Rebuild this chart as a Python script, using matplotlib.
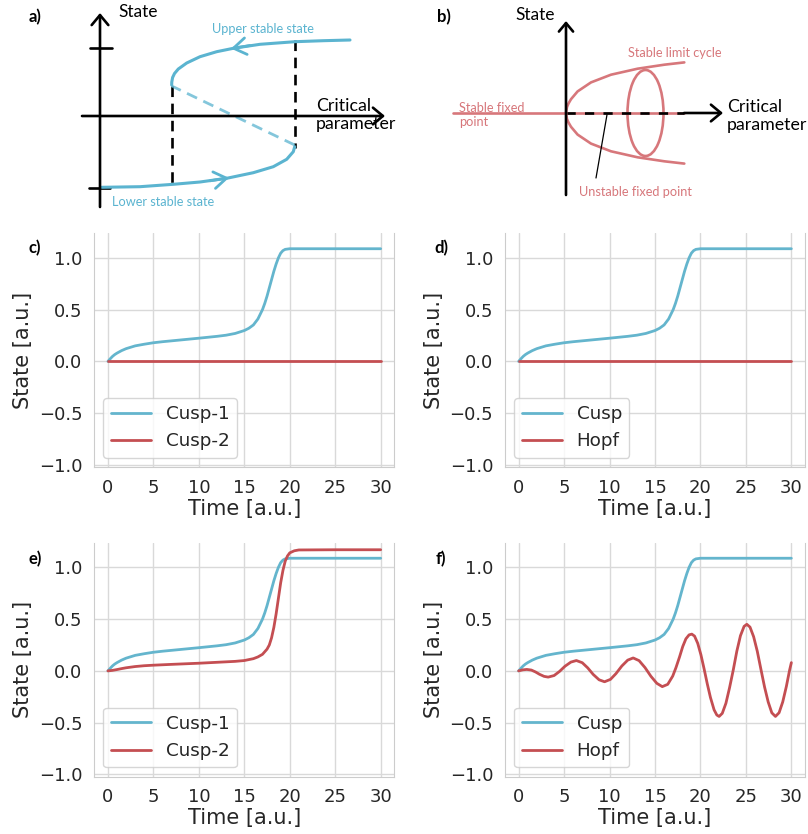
import matplotlib
matplotlib.use('Agg')
import matplotlib.pyplot as plt
from matplotlib.patches import Ellipse
import seaborn as sns

# --- time series ---
t_cusp1 = [0, 0.25, 0.5, 0.75, 1, 1.5, 2, 3, 4, 5, 6, 8, 10, 12, 13, 14, 15, 15.5, 16, 16.5,
           17, 17.25, 17.5, 17.75, 18, 18.25, 18.5, 18.75, 19, 19.25, 19.5, 20, 25, 30]
cusp1 = [0, 0.025, 0.048, 0.066, 0.08, 0.104, 0.123, 0.15, 0.166, 0.18, 0.19, 0.207, 0.224,
         0.242, 0.253, 0.27, 0.298, 0.32, 0.352, 0.41, 0.5, 0.56, 0.63, 0.71, 0.79, 0.87,
         0.94, 1.0, 1.045, 1.07, 1.082, 1.088, 1.088, 1.088]

t_cusp2 = [0, 0.5, 1, 1.5, 2, 3, 4, 5, 7, 10, 12, 14, 15, 16, 16.5, 17, 17.5, 17.75, 18, 18.25,
           18.5, 18.75, 19, 19.25, 19.5, 19.75, 20, 20.5, 21, 25, 30]
cusp2 = [0, 0.005, 0.013, 0.022, 0.03, 0.042, 0.05, 0.055, 0.063, 0.074, 0.083, 0.092, 0.1,
         0.118, 0.135, 0.16, 0.21, 0.25, 0.32, 0.42, 0.55, 0.7, 0.85, 0.97, 1.06, 1.11, 1.14,
         1.16, 1.168, 1.17, 1.17]

t_flat = [0, 30]
flat = [0, 0]

t_hopf = [0, 0.45, 0.9, 1.4, 1.85, 2.3, 2.8, 3.25, 3.9, 4.5, 5.1, 5.75, 6.35, 7.0, 7.6, 8.2,
          8.85, 9.45, 10.1, 10.7, 11.35, 12.0, 12.6, 13.25, 13.9, 14.55, 15.2, 15.8, 16.4,
          16.95, 17.3, 17.7, 18.05, 18.4, 18.75, 19.05, 19.35, 19.7, 20.05, 20.4, 20.75, 21.1,
          21.5, 21.8, 22.05, 22.4, 22.8, 23.2, 23.6, 24.0, 24.4, 24.8, 25.1, 25.45, 25.85,
          26.25, 26.65, 27.05, 27.45, 27.85, 28.25, 28.65, 29.05, 29.45, 29.8, 30.0]
hopf = [0, 0.01, 0.014, 0.008, -0.01, -0.033, -0.053, -0.06, -0.045, -0.005, 0.045, 0.085,
        0.1, 0.079, 0.029, -0.034, -0.086, -0.105, -0.082, -0.027, 0.047, 0.104, 0.125, 0.099,
        0.032, -0.052, -0.12, -0.152, -0.13, -0.05, 0.03, 0.135, 0.235, 0.31, 0.348, 0.355,
        0.336, 0.266, 0.156, 0.02, -0.125, -0.257, -0.376, -0.426, -0.44, -0.41, -0.313,
        -0.163, 0.005, 0.19, 0.34, 0.43, 0.45, 0.423, 0.33, 0.19, 0.016, -0.155, -0.30, -0.405,
        -0.44, -0.404, -0.30, -0.15, 0.005, 0.08]

x_ticks = [0, 5, 10, 15, 20, 25, 30]
y_ticks = [-1.0, -0.5, 0.0, 0.5, 1.0]

# --- schematic a) (fold), units ~ pixels from the axis crossing ---
lower_x = [1.7, 40, 73.3, 100, 126.7, 153.3, 173.3, 186.7, 193.3, 194.7]
lower_y = [-71.3, -70.7, -68.3, -66, -62.3, -56.7, -50.7, -43.3, -35.7, -30.7]
middle_x = [194.7, 71.7]
middle_y = [-29, 30]
upper_x = [71.7, 71.8, 72.6, 74.5, 78.3, 86.7, 100, 116.7, 133.3, 160, 195, 223.3, 250]
upper_y = [31, 34, 38.5, 42.5, 47, 53, 59.3, 64.3, 67.7, 71.7, 74.3, 75.3, 76]

# --- schematic b) (Hopf) ---
para_x = [0, 1, 2.5, 5, 11.6, 25, 45, 71.6, 98.3, 118.3]
para_y = [0, 6, 9.5, 13.8, 21.6, 30.6, 38.3, 44.3, 48.3, 50.6]

blue = '#64b5cd'
red = '#c44e52'
blue_s = '#5bb4d0'
red_s = '#d7777b'

sns.set_style('whitegrid')
plt.rcParams['font.family'] = ['DejaVu Sans']
plt.rcParams['text.color'] = '.15'
plt.rcParams['axes.labelcolor'] = '.15'
plt.rcParams['xtick.color'] = '.15'
plt.rcParams['ytick.color'] = '.15'

W, H = 808, 834
fig = plt.figure(figsize=(W / 100, H / 100), dpi=100)


def px_axes(left, top, width, height):
    return fig.add_axes([left / W, 1 - (top + height) / H, width / W, height / H])


def label(x, y, s):
    fig.text(x / W, 1 - y / H, s, fontsize=12, fontweight='bold', family='Lato',
             ha='center', va='center', color='black')


sfont = 'Lato'

# --- a) ---
ax = px_axes(0, 0, 404, 215)
ax.set_xlim(-100, 304)
ax.set_ylim(-99, 116)
ax.axis('off')
axis_arrow = dict(arrowstyle='->,head_length=0.36,head_width=0.3', lw=1.9, color='black',
                  shrinkA=0, shrinkB=0, mutation_scale=20)
ax.annotate('', xy=(0, 103), xytext=(0, -91), arrowprops=axis_arrow)
ax.annotate('', xy=(285, 0), xytext=(-18, 0), arrowprops=axis_arrow)
ax.plot([-10, 12], [68, 68], color='black', lw=1.9)
ax.plot([-11, 10], [-72, -72], color='black', lw=1.9)
ax.plot([72, 72], [30, -70], color='black', lw=1.9, dashes=(4, 2.5))
ax.plot([195, 195], [76, -32], color='black', lw=1.9, dashes=(4, 2.5))
ax.plot(lower_x, lower_y, color=blue_s, lw=2.2, solid_capstyle='round')
ax.plot(upper_x, upper_y, color=blue_s, lw=2.2, solid_capstyle='round')
ax.plot(middle_x, middle_y, color=blue_s, lw=2.0, alpha=0.75, dashes=(4, 2.5))
chev = dict(arrowstyle='->,head_length=0.45,head_width=0.3', lw=2.0, color=blue_s,
            shrinkA=0, shrinkB=0, mutation_scale=20)
ax.annotate('', xy=(131, 67.4), xytext=(150, 70.5), arrowprops=chev)
ax.annotate('', xy=(129, -61.8), xytext=(110, -64.8), arrowprops=chev)
ax.text(38, 104, 'State', fontsize=12.5, family=sfont, ha='center', va='center', color='black')
ax.text(216, 1, 'Critical\nparameter', fontsize=12.8, family=sfont, ha='left', va='center',
        color='black', linespacing=1.2)
ax.text(163, 87, 'Upper stable state', fontsize=9.2, family=sfont, ha='center', va='center',
        color=blue_s)
ax.text(63, -86, 'Lower stable state', fontsize=9.2, family=sfont, ha='center', va='center',
        color=blue_s)

# --- b) ---
ax = px_axes(404, 0, 404, 215)
ax.set_xlim(-162, 242)
ax.set_ylim(-102, 113)
ax.axis('off')
ax.annotate('', xy=(0, 92), xytext=(0, -82), arrowprops=dict(axis_arrow, mutation_scale=17))
ax.plot([-113, 118], [0, 0], color=red_s, lw=1.9, zorder=1)
ax.plot([0, 118], [0, 0], color='black', lw=1.9, dashes=(3.5, 3.5), zorder=2)
ax.annotate('', xy=(157, 0), xytext=(118, 0), arrowprops=axis_arrow)
ax.plot(para_x, para_y, color=red_s, lw=1.9)
ax.plot(para_x, [-v for v in para_y], color=red_s, lw=1.9)
ax.add_patch(Ellipse((79.5, 0), 36, 86, fill=False, ec=red_s, lw=1.9))
ax.plot([41, 30], [-1.7, -65], color='black', lw=0.9)
ax.text(-31, 98, 'State', fontsize=12.5, family=sfont, ha='center', va='center', color='black')
ax.text(161, -3, 'Critical\nparameter', fontsize=12.8, family=sfont, ha='left', va='center',
        color='black', linespacing=1.2)
ax.text(109, 60, 'Stable limit cycle', fontsize=9.2, family=sfont, ha='center', va='center',
        color=red_s)
ax.text(-107, -2, 'Stable fixed\npoint', fontsize=9.2, family=sfont, ha='left', va='center',
        color=red_s, linespacing=1.25)
ax.text(69, -79, 'Unstable fixed point', fontsize=9.2, family=sfont, ha='center', va='center',
        color=red_s)

label(35, 17, 'a)')
label(444, 17, 'b)')

# --- c) to f) ---
panels = [
    ((94.3, 233), 'c)', (35, 248), [(t_cusp1, cusp1, blue, 'Cusp-1'), (t_flat, flat, red, 'Cusp-2')]),
    ((505, 233), 'd)', (441, 248), [(t_cusp1, cusp1, blue, 'Cusp'), (t_flat, flat, red, 'Hopf')]),
    ((94.3, 542.5), 'e)', (35, 559), [(t_cusp1, cusp1, blue, 'Cusp-1'), (t_cusp2, cusp2, red, 'Cusp-2')]),
    ((505, 542.5), 'f)', (441, 559), [(t_cusp1, cusp1, blue, 'Cusp'), (t_hopf, hopf, red, 'Hopf')]),
]
for (left, top), name, lpos, series in panels:
    ax = px_axes(left, top, 300, 234)
    for t, v, c, lab in series:
        ax.plot(t, v, color=c, lw=2.0, label=lab)
    ax.set_xlim(-1.5, 31.5)
    ax.set_ylim(-1.02, 1.24)
    ax.set_xticks(x_ticks)
    ax.set_yticks(y_ticks)
    ax.tick_params(labelsize=13, pad=8.5, length=0)
    ax.set_xlabel('Time [a.u.]', fontsize=15, labelpad=1.5)
    ax.set_ylabel('State [a.u.]', fontsize=15, labelpad=4)
    ax.spines['top'].set_visible(False)
    for s in ['left', 'right', 'bottom']:
        ax.spines[s].set_color('.8')
    ax.grid(True, color='.85', lw=1)
    ax.legend(loc='lower left', fontsize=13.2, handlelength=2.2)
    label(lpos[0], lpos[1], name)

fig.savefig('out.png', dpi=100)
